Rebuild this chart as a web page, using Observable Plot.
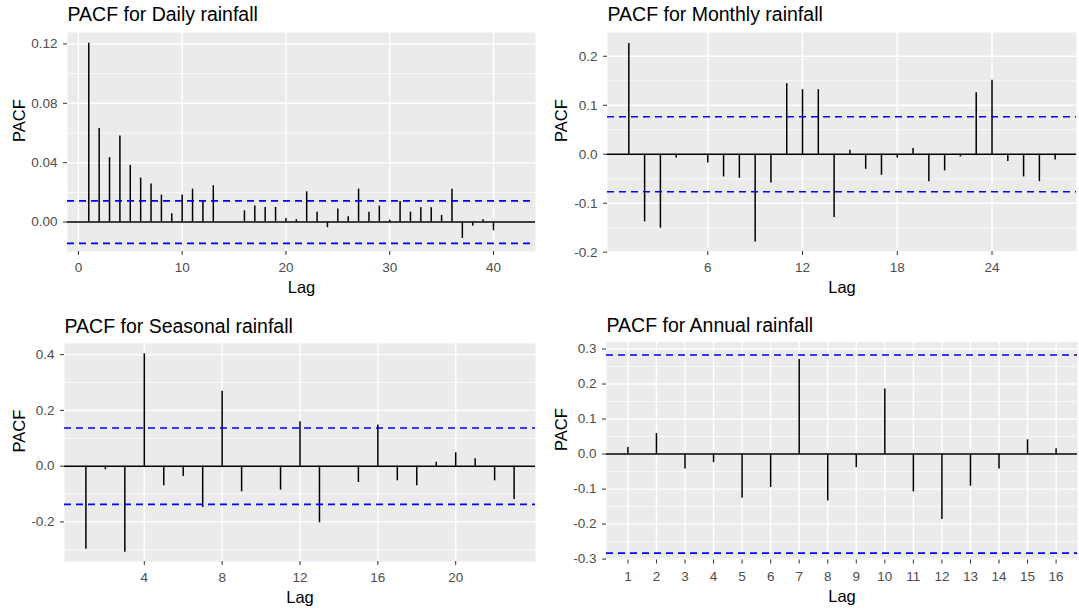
<!DOCTYPE html>
<html>
<head>
<meta charset="utf-8">
<script src="https://cdn.jsdelivr.net/npm/d3@7"></script>
<script src="https://cdn.jsdelivr.net/npm/@observablehq/plot@0.6"></script>
<style>
  html, body { margin: 0; padding: 0; background: #ffffff; }
  #root { position: relative; width: 1079px; height: 612px; overflow: hidden; background: #ffffff; }
  .cell { position: absolute; }
  .cell svg { display: block; }
</style>
</head>
<body>
<div id="root"></div>
<script>
// ---------- Data ----------
const dailyLags = [1,2,3,4,5,6,7,8,9,10,11,12,13,14,15,16,17,18,19,20,21,22,23,24,25,26,27,28,29,30,31,32,33,34,35,36,37,38,39,40];
const dailyPacf = [0.1205,0.0631,0.0434,0.0580,0.0382,0.0297,0.0256,0.0182,0.0056,0.0182,0.0222,0.0139,0.0245,0.0000,0.0000,0.0076,0.0108,0.0099,0.0099,0.0025,0.0016,0.0204,0.0067,-0.0038,0.0088,0.0036,0.0222,0.0067,0.0108,0.0013,0.0139,0.0067,0.0097,0.0097,0.0045,0.0222,-0.0110,-0.0027,0.0016,-0.0058];
const dailyCI = 0.0143;

const monthlyLags = [1,2,3,4,5,6,7,8,9,10,11,12,13,14,15,16,17,18,19,20,21,22,23,24,25,26,27,28];
const monthlyPacf = [0.226,-0.138,-0.151,-0.0075,0.0,-0.0177,-0.0464,-0.049,-0.179,-0.0587,0.144,0.1317,0.1317,-0.129,0.0082,-0.0307,-0.043,-0.008,0.0116,-0.056,-0.034,-0.0055,0.1256,0.151,-0.015,-0.0464,-0.056,-0.0116];
const monthlyCI = 0.0765;

const seasonalLags = [1,2,3,4,5,6,7,8,9,10,11,12,13,14,15,16,17,18,19,20,21,22,23];
const seasonalPacf = [-0.298,-0.013,-0.309,0.403,-0.0706,-0.037,-0.148,0.269,-0.092,0.0,-0.086,0.159,-0.203,0.0,-0.0586,0.148,-0.0526,-0.0706,0.0144,0.0478,0.0263,-0.0526,-0.1196];
const seasonalCI = 0.137;

const annualLags = [1,2,3,4,5,6,7,8,9,10,11,12,13,14,15,16];
const annualPacf = [0.019,0.0587,-0.0426,-0.0246,-0.126,-0.0955,0.27,-0.134,-0.0388,0.186,-0.108,-0.187,-0.0918,-0.0426,0.0407,0.015];
const annualCI = 0.283;

// Tick labels / gridlines
const dailyXTicks = [0,10,20,30,40];
const dailyYTicks = [0,0.04,0.08,0.12];
const dailyYMinor = [0.02,0.06,0.10];

const monthlyXTicks = [6,12,18,24];
const monthlyYTicks = [-0.2,-0.1,0,0.1,0.2];
const monthlyYMinor = [-0.15,-0.05,0.05,0.15];

const seasonalXTicks = [4,8,12,16,20];
const seasonalYTicks = [-0.2,0,0.2,0.4];
const seasonalYMinor = [-0.3,-0.1,0.1,0.3];

const annualXTicks = [1,2,3,4,5,6,7,8,9,10,11,12,13,14,15,16];
const annualYTicks = [-0.3,-0.2,-0.1,0,0.1,0.2,0.3];
const annualYMinor = [-0.25,-0.15,-0.05,0.05,0.15,0.25];

const titles = ["PACF for Daily rainfall","PACF for Monthly rainfall","PACF for Seasonal rainfall","PACF for Annual rainfall"];

// ---------- Drawing ----------
const FONT = "'Liberation Sans', Arial, 'DejaVu Sans', sans-serif";

function pacfPlot(cfg) {
  const data = cfg.lags.map((l, i) => ({lag: l, pacf: cfg.values[i]}));
  return Plot.plot({
    width: cfg.width,
    height: cfg.height,
    marginLeft: cfg.ml, marginRight: cfg.mr, marginTop: cfg.mt, marginBottom: cfg.mb,
    style: {fontFamily: FONT, fontSize: "13.5px", background: "transparent", overflow: "visible"},
    x: {domain: cfg.xDomain},
    y: {domain: cfg.yDomain},
    marks: [
      Plot.frame({fill: "#ebebeb", stroke: null}),
      Plot.ruleY(cfg.yMinor, {stroke: "#ffffff", strokeWidth: 0.7}),
      Plot.ruleY(cfg.yTicks, {stroke: "#ffffff", strokeWidth: 1.4}),
      Plot.ruleX(cfg.xTicks, {stroke: "#ffffff", strokeWidth: 1.4}),
      Plot.ruleY([0], {stroke: "#000000", strokeWidth: 1.5}),
      Plot.ruleX(data, {x: "lag", y1: 0, y2: "pacf", stroke: "#000000", strokeWidth: 1.5}),
      Plot.ruleY([cfg.ci, -cfg.ci], {stroke: "#0000ff", strokeWidth: 1.6, strokeDasharray: "7,5"}),
      Plot.axisX({ticks: cfg.xTicks, tickFormat: d => String(d), tickSize: 4, tickPadding: 7, label: null, stroke: "#333333", fill: "#4d4d4d"}),
      Plot.axisY({ticks: cfg.yTicks, tickFormat: d => d.toFixed(cfg.digits), tickSize: 4, tickPadding: 6, label: null, stroke: "#333333", fill: "#4d4d4d"}),
      Plot.text([cfg.title], {frameAnchor: "top-left", dy: cfg.titleDy, lineAnchor: "bottom", textAnchor: "start", fontSize: 19.5, fill: "#000000"}),
      Plot.text(["PACF"], {frameAnchor: "left", dx: cfg.ylabDx, rotate: -90, lineAnchor: "middle", fontSize: 16.5, fill: "#000000"}),
      Plot.text(["Lag"], {frameAnchor: "bottom", dy: cfg.xlabDy, lineAnchor: "bottom", fontSize: 16.5, fill: "#000000"})
    ]
  });
}

const panels = [
  {left: 0, top: 0, width: 540, height: 305, ml: 67, mr: 5, mt: 32, mb: 54,
   lags: dailyLags, values: dailyPacf, ci: dailyCI, xDomain: [-1.05, 44.05], yDomain: [-0.0198, 0.1277],
   xTicks: dailyXTicks, yTicks: dailyYTicks, yMinor: dailyYMinor, digits: 2, title: titles[0],
   titleDy: -11.5, ylabDx: -48, xlabDy: 41},
  {left: 540, top: 0, width: 539, height: 305, ml: 67, mr: 3, mt: 32, mb: 54,
   lags: monthlyLags, values: monthlyPacf, ci: monthlyCI, xDomain: [-0.35, 29.35], yDomain: [-0.1986, 0.2485],
   xTicks: monthlyXTicks, yTicks: monthlyYTicks, yMinor: monthlyYMinor, digits: 1, title: titles[1],
   titleDy: -11.5, ylabDx: -46, xlabDy: 41},
  {left: 0, top: 305, width: 540, height: 307, ml: 64, mr: 5, mt: 38, mb: 51,
   lags: seasonalLags, values: seasonalPacf, ci: seasonalCI, xDomain: [-0.1, 24.1], yDomain: [-0.342, 0.44],
   xTicks: seasonalXTicks, yTicks: seasonalYTicks, yMinor: seasonalYMinor, digits: 1, title: titles[2],
   titleDy: -11, ylabDx: -45, xlabDy: 41},
  {left: 540, top: 305, width: 539, height: 307, ml: 66, mr: 2, mt: 36.5, mb: 52.5,
   lags: annualLags, values: annualPacf, ci: annualCI, xDomain: [0.25, 16.75], yDomain: [-0.3025, 0.32],
   xTicks: annualXTicks, yTicks: annualYTicks, yMinor: annualYMinor, digits: 1, title: titles[3],
   titleDy: -10.5, ylabDx: -45, xlabDy: 42}
];

const root = document.getElementById("root");
for (const p of panels) {
  const cell = document.createElement("div");
  cell.className = "cell";
  cell.style.left = p.left + "px";
  cell.style.top = p.top + "px";
  cell.style.width = p.width + "px";
  cell.style.height = p.height + "px";
  cell.appendChild(pacfPlot(p));
  root.appendChild(cell);
}
</script>
</body>
</html>
